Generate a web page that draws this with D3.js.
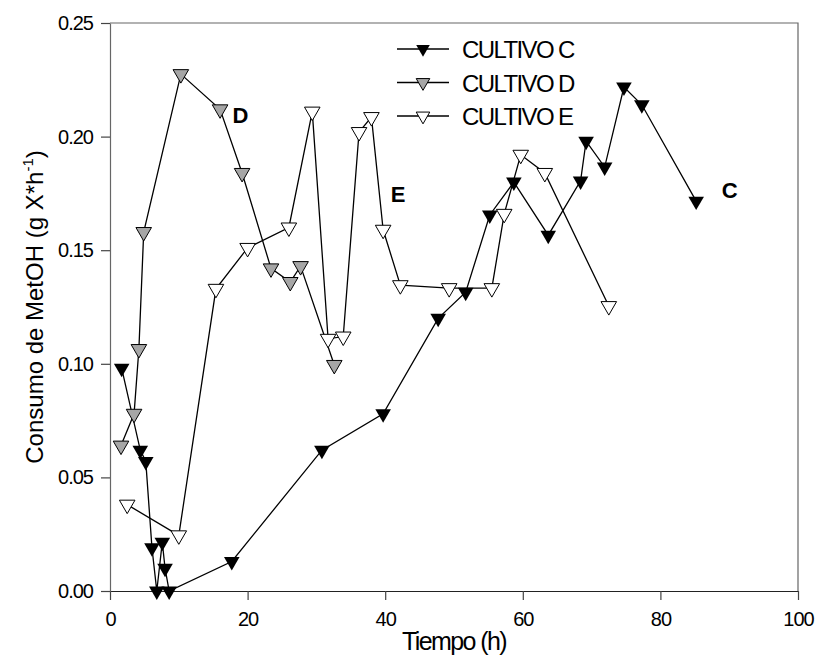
<!DOCTYPE html>
<html>
<head>
<meta charset="utf-8">
<script src="https://cdn.jsdelivr.net/npm/d3@7"></script>
<style>
  body { margin: 0; background: #fff; }
  svg text { font-family: Arial, "Liberation Sans", sans-serif; }
</style>
</head>
<body>
<svg id="chart" width="818" height="655"></svg>
<script>
// tiempo (h) / consumo de MetOH per culture
const cultivoC_t = [1.7, 4.4, 5.2, 6.1, 6.8, 7.6, 8.0, 8.6, 17.7, 30.8, 39.7, 47.7, 51.7, 55.2, 58.7, 63.7, 68.4, 69.2, 71.9, 74.7, 77.3, 85.2]
const cultivoC_v = [0.098, 0.062, 0.057, 0.019, 0.0, 0.0215, 0.010, 0.0, 0.013, 0.062, 0.078, 0.120, 0.1315, 0.1655, 0.180, 0.1566, 0.1805, 0.198, 0.1866, 0.2218, 0.214, 0.1716]

const cultivoD_t = [1.6, 3.5, 4.2, 4.9, 10.3, 16.0, 19.2, 23.4, 26.2, 27.7, 32.6]
const cultivoD_v = [0.064, 0.078, 0.1065, 0.158, 0.2275, 0.212, 0.184, 0.142, 0.136, 0.143, 0.0995]

const cultivoE_t = [2.5, 10.0, 15.4, 20.0, 26.0, 29.4, 31.7, 33.9, 36.2, 38.0, 39.7, 42.2, 49.3, 55.5, 57.3, 59.7, 63.2, 72.5]
const cultivoE_v = [0.038, 0.0245, 0.133, 0.151, 0.160, 0.211, 0.111, 0.112, 0.202, 0.2086, 0.159, 0.1346, 0.1333, 0.1333, 0.166, 0.192, 0.184, 0.1254]

const seriesNames = ['CULTIVO C', 'CULTIVO D', 'CULTIVO E']
const seriesFill = ['#000', '#a6a6a6', '#fff']
const xTicks = [0, 20, 40, 60, 80, 100]
const yTicks = [0, 0.05, 0.10, 0.15, 0.20, 0.25]

// point labels next to the curves
const curveLabels = ['C', 'D', 'E']
const curveLabelAt = [[88.9, 0.173], [17.8, 0.206], [40.8, 0.171]]

const svg = d3.select('#chart')
const m = { left: 110, right: 20, top: 23, bottom: 64 }
const W = 818, H = 655

const x = d3.scaleLinear().domain([0, 100]).range([m.left, W - m.right])
const y = d3.scaleLinear().domain([0, 0.25]).range([H - m.bottom, m.top])

const series = [
  cultivoC_t.map((t, i) => [t, cultivoC_v[i]]),
  cultivoD_t.map((t, i) => [t, cultivoD_v[i]]),
  cultivoE_t.map((t, i) => [t, cultivoE_v[i]])
]

// frame
svg.append('path')
  .attr('d', `M${x(0)},${y(0.25)}H${x(100)}V${y(0)}`)
  .attr('fill', 'none').attr('stroke', '#666').attr('stroke-width', 1.2)

const xAxis = svg.append('g')
  .attr('transform', `translate(0,${y(0)})`)
  .call(d3.axisBottom(x).tickValues(xTicks).tickSize(9).tickSizeOuter(0).tickPadding(12).tickFormat(d3.format('d')))
const yAxis = svg.append('g')
  .attr('transform', `translate(${x(0)},0)`)
  .call(d3.axisLeft(y).tickValues(yTicks).tickSize(9).tickSizeOuter(0).tickPadding(8).tickFormat(d3.format('.2f')))

xAxis.select('.domain').attr('stroke', '#222').attr('stroke-width', 1.2)
yAxis.select('.domain').attr('stroke', '#666').attr('stroke-width', 1.2)
svg.selectAll('.tick line').attr('stroke', '#444').attr('stroke-width', 1.2)
svg.selectAll('.tick text')
  .attr('font-size', 20).attr('fill', '#000')
  .attr('letter-spacing', '-1px')
  .attr('font-family', 'Arial, "Liberation Sans", sans-serif')

const line = d3.line().x(d => x(d[0])).y(d => y(d[1]))
const tri = d3.symbol().type(d3.symbolTriangle).size(105)

series.forEach((s, k) => {
  const g = svg.append('g')
  g.append('path').attr('d', line(s))
    .attr('fill', 'none').attr('stroke', '#000').attr('stroke-width', 1.3)
  g.selectAll('path.pt').data(s).join('path')
    .attr('class', 'pt')
    .attr('d', tri)
    .attr('transform', d => `translate(${x(d[0])},${y(d[1])}) rotate(180)`)
    .attr('fill', seriesFill[k])
    .attr('stroke', k === 0 ? 'none' : '#000')
    .attr('stroke-width', 1)
})

// legend
const leg = svg.append('g')
seriesNames.forEach((name, k) => {
  const ly = 49 + k * 33.5
  leg.append('line').attr('x1', 397).attr('x2', 449).attr('y1', ly).attr('y2', ly)
    .attr('stroke', '#000').attr('stroke-width', 1.3)
  leg.append('path').attr('d', d3.symbol().type(d3.symbolTriangle).size(80)())
    .attr('transform', `translate(423,${ly}) rotate(180)`)
    .attr('fill', seriesFill[k]).attr('stroke', k === 0 ? 'none' : '#000')
  leg.append('text').attr('x', 462).attr('y', ly + 9)
    .attr('font-size', 24).attr('letter-spacing', '-1.6px')
    .text(name)
})

// curve labels
curveLabels.forEach((c, k) => {
  svg.append('text')
    .attr('x', x(curveLabelAt[k][0])).attr('y', y(curveLabelAt[k][1]))
    .attr('font-size', 22).attr('font-weight', 'bold')
    .text(c)
})

// axis titles
svg.append('text')
  .attr('x', (x(0) + x(100)) / 2).attr('y', 650)
  .attr('text-anchor', 'middle').attr('font-size', 25).attr('letter-spacing', '-1.6px')
  .text('Tiempo (h)')

const yt = svg.append('text')
  .attr('transform', `translate(43,${(y(0) + y(0.25)) / 2}) rotate(-90)`)
  .attr('text-anchor', 'middle').attr('font-size', 24)
yt.append('tspan').text('Consumo de MetOH (g X*h')
yt.append('tspan').attr('font-size', 15).attr('dy', -10).text('-1')
yt.append('tspan').attr('dy', 10).text(')')
</script>
</body>
</html>
